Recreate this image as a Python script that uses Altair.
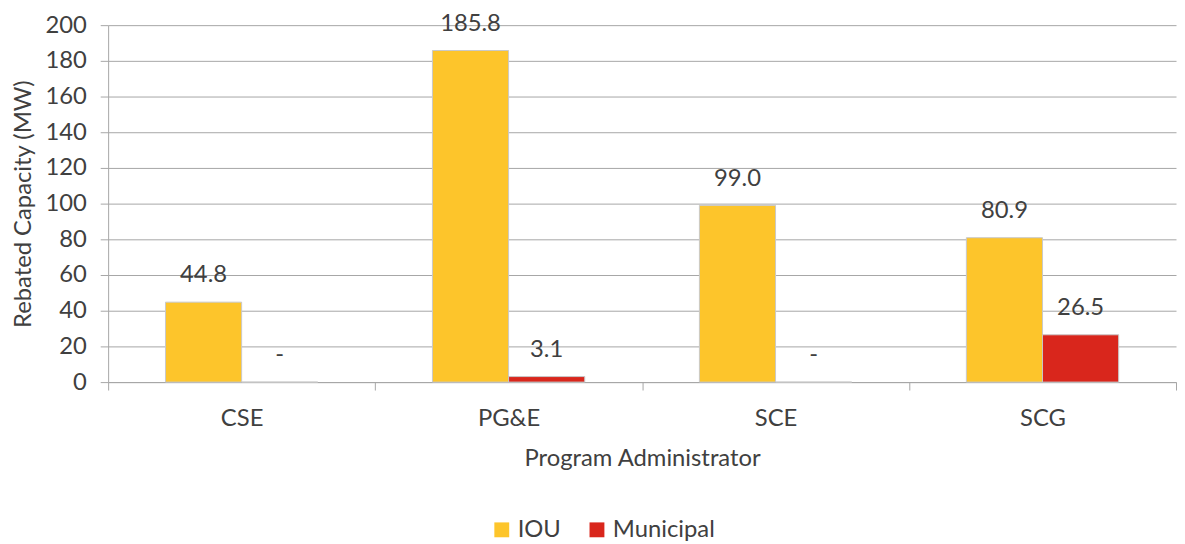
import altair as alt
import pandas as pd

administrators = ["CSE", "PG&E", "SCE", "SCG"]
iou_values = [44.8, 185.8, 99.0, 80.9]
municipal_values = [0.0, 3.1, 0.0, 26.5]
series_names = ["IOU", "Municipal"]
series_colors = ["#FDC52B", "#D9261C"]
y_ticks = [0, 20, 40, 60, 80, 100, 120, 140, 160, 180, 200]

rows = []
for a, v in zip(administrators, iou_values):
    rows.append({"admin": a, "series": "IOU", "value": v})
for a, v in zip(administrators, municipal_values):
    rows.append({"admin": a, "series": "Municipal", "value": v})
df = pd.DataFrame(rows)

FONT = "Lato"
TXT = "#404040"
GRID = "#A6A6A6"
FS = 24

base = alt.Chart(df).transform_calculate(
    label="datum.value > 0 ? format(datum.value, '.1f') : '-'"
).encode(
    x=alt.X("admin:N", sort=administrators, title="Program Administrator",
            scale=alt.Scale(paddingInner=0, paddingOuter=0),
            axis=alt.Axis(labelAngle=0, tickBand="extent", grid=False,
                          tickSize=8, labelPadding=17, titlePadding=16,
                          domainColor=GRID, tickColor=GRID)),
    xOffset=alt.XOffset("series:N", sort=series_names,
                        scale=alt.Scale(paddingInner=0, paddingOuter=0.753)),
    y=alt.Y("value:Q", title="Rebated Capacity (MW)",
            scale=alt.Scale(domain=[0, 200]),
            axis=alt.Axis(values=y_ticks, tickCount=len(y_ticks) + 2,
                          tickSize=8, labelOverlap=False,
                          labelPadding=14, titlePadding=10,
                          gridColor=GRID, domainColor=GRID, tickColor=GRID)),
)

bars = base.mark_bar(stroke="#C8C8C8", strokeWidth=1).encode(
    color=alt.Color("series:N", sort=series_names,
                    scale=alt.Scale(domain=series_names, range=series_colors),
                    legend=alt.Legend(orient="none", direction="horizontal",
                                      legendX=385, legendY=497,
                                      title=None, symbolType="square",
                                      symbolSize=225, symbolStrokeWidth=0,
                                      columnPadding=24,
                                      labelFontSize=FS, labelFont=FONT,
                                      labelColor=TXT)),
)

labels = base.mark_text(baseline="middle", dy=-27, fontSize=FS, font=FONT,
                        color=TXT).encode(text="label:N")

chart = alt.layer(bars, labels).properties(
    width=1077, height=360,
    padding={"left": 3, "top": 1, "right": 0, "bottom": 2},
).configure_view(stroke=None).configure_axis(
    labelFont=FONT, titleFont=FONT, labelFontSize=FS, titleFontSize=FS,
    labelColor=TXT, titleColor=TXT, titleFontWeight="normal",
).configure_axisX(grid=False)

chart.save("out.html", embed_options={"renderer": "svg", "actions": False})
